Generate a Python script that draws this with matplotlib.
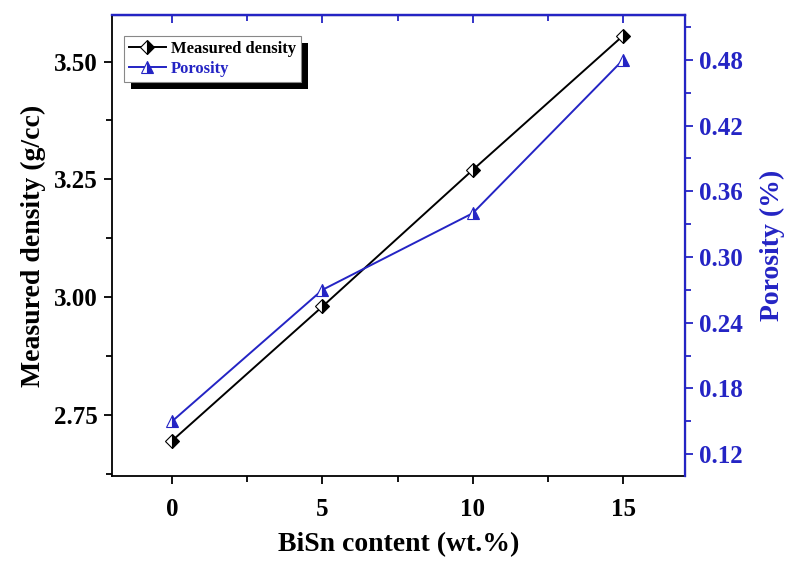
import numpy as np
import matplotlib.pyplot as plt
from matplotlib.patches import Rectangle
from matplotlib.ticker import MultipleLocator

# BiSn content (wt.%) and measured properties
bisn = np.array([0, 5, 10, 15])
density = np.array([2.695, 2.98, 3.27, 3.555])
porosity = np.array([0.15, 0.27, 0.34, 0.48])

blue = '#2424c4'

plt.rcParams['font.family'] = 'Liberation Serif'
plt.rcParams['font.weight'] = 'bold'

fig = plt.figure(figsize=(7.85, 5.61), dpi=100)
ax = fig.add_axes([0.1427, 0.1515, 0.7299, 0.8218])
ax2 = ax.twinx()

l1, = ax.plot(bisn, density, color='black', lw=1.4, marker='D', ms=7.5,
              fillstyle='right', markerfacecolor='black',
              markerfacecoloralt='white', markeredgecolor='black',
              markeredgewidth=0.8, label='Measured density')
l2, = ax2.plot(bisn, porosity, color=blue, lw=1.4, marker='^', ms=8.5,
               fillstyle='right', markerfacecolor=blue,
               markerfacecoloralt='white', markeredgecolor=blue,
               markeredgewidth=0.8, label='Porosity')

ax.set_xlim(-2, 17.06)
ax.set_ylim(2.62, 3.599)
ax2.set_ylim(0.100, 0.521)

ax.xaxis.set_major_locator(MultipleLocator(5))
ax.xaxis.set_minor_locator(MultipleLocator(2.5))
ax.yaxis.set_major_locator(MultipleLocator(0.25))
ax.yaxis.set_minor_locator(MultipleLocator(0.125))
ax2.yaxis.set_major_locator(MultipleLocator(0.06))
ax2.yaxis.set_minor_locator(MultipleLocator(0.03))
ax.yaxis.set_major_formatter(plt.FormatStrFormatter('%.2f'))
ax2.yaxis.set_major_formatter(plt.FormatStrFormatter('%.2f'))

ax.tick_params(axis='both', which='major', length=6, width=1.3,
               labelsize=18, direction='out', pad=4)
ax.tick_params(axis='x', which='major', pad=10)
ax.tick_params(axis='both', which='minor', length=4, width=1.3,
               direction='out')
ax2.tick_params(axis='y', which='major', length=6, width=1.3, labelsize=18,
                colors=blue, direction='out', pad=4)
ax2.tick_params(axis='y', which='minor', length=4, width=1.3,
                colors=blue, direction='out')

# inward blue ticks along the top edge
top = ax.secondary_xaxis('top')
top.xaxis.set_major_locator(MultipleLocator(5))
top.xaxis.set_minor_locator(MultipleLocator(2.5))
top.tick_params(axis='x', which='major', direction='in', length=6,
                width=1.3, colors=blue, labeltop=False)
top.tick_params(axis='x', which='minor', direction='in', length=4,
                width=1.3, colors=blue)
top.spines['top'].set_color(blue)
top.spines['top'].set_linewidth(1.6)

for s in ['left', 'bottom']:
    ax.spines[s].set_linewidth(1.3)
ax2.spines['right'].set_color(blue)
ax2.spines['top'].set_color(blue)
ax2.spines['right'].set_linewidth(1.6)
ax2.spines['top'].set_linewidth(1.6)
ax2.spines['left'].set_visible(False)
ax2.spines['bottom'].set_visible(False)

ax.set_xlabel('BiSn content (wt.%)', fontsize=20, fontweight='bold',
              labelpad=8)
ax.set_ylabel('Measured density (g/cc)', fontsize=20, fontweight='bold',
              labelpad=6)
ax2.set_ylabel('Porosity (%)', fontsize=20, fontweight='bold', color=blue,
               labelpad=12)

leg = ax2.legend(handles=[l1, l2], loc='upper left',
                 bbox_to_anchor=(0.021, 0.955), borderaxespad=0,
                 fancybox=False, framealpha=1, edgecolor='#888888',
                 prop={'size': 12, 'weight': 'bold'}, handlelength=2.2,
                 handletextpad=0.3, borderpad=0.3, labelspacing=0.25)
leg.get_frame().set_linewidth(0.8)
leg.get_texts()[1].set_color(blue)
leg.set_zorder(6)

# solid black drop shadow behind the legend box
fig.canvas.draw()
bb = leg.get_window_extent()
ax2.add_patch(Rectangle((bb.x0 + 7, bb.y0 - 7), bb.width, bb.height,
                        transform=None, facecolor='black', edgecolor='none',
                        zorder=5, clip_on=False))

fig.savefig('out.png', dpi=100)
